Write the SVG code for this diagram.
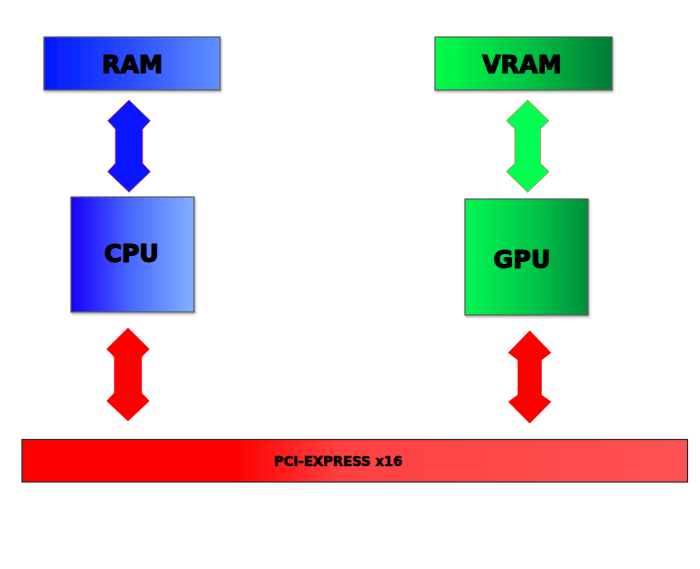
<svg xmlns="http://www.w3.org/2000/svg" width="700" height="569" viewBox="0 0 700 569">
<defs>
<linearGradient id="gRam" x1="0" y1="0" x2="1" y2="0">
<stop offset="0" stop-color="#0016ff"/><stop offset="0.5" stop-color="#2a4eff"/><stop offset="1" stop-color="#6090ff"/>
</linearGradient>
<linearGradient id="gCpu" x1="0" y1="0" x2="1" y2="0">
<stop offset="0" stop-color="#1800ff"/><stop offset="0.5" stop-color="#4a6cff"/><stop offset="1" stop-color="#82b0ff"/>
</linearGradient>
<linearGradient id="gVram" x1="0" y1="0" x2="1" y2="0">
<stop offset="0" stop-color="#00ff48"/><stop offset="0.5" stop-color="#00c844"/><stop offset="1" stop-color="#007a36"/>
</linearGradient>
<linearGradient id="gGpu" x1="0" y1="0" x2="1" y2="0">
<stop offset="0" stop-color="#00f654"/><stop offset="0.5" stop-color="#00cc48"/><stop offset="1" stop-color="#008f3c"/>
</linearGradient>
<linearGradient id="gPci" x1="0" y1="0" x2="1" y2="0">
<stop offset="0" stop-color="#ff0000"/><stop offset="0.32" stop-color="#ff0000"/><stop offset="0.48" stop-color="#ff4040"/><stop offset="1" stop-color="#ff5252"/>
</linearGradient>
<filter id="sh" x="-10%" y="-10%" width="120%" height="130%">
<feDropShadow dx="1" dy="1.5" stdDeviation="1.2" flood-color="#000" flood-opacity="0.35"/>
</filter>
</defs>
<style>
.box{stroke:#5a5a5a;stroke-width:1.2;filter:url(#sh)}
.lbl{font-family:"DejaVu Sans","Liberation Sans",sans-serif;font-weight:bold;fill:#000;stroke:#000;text-anchor:middle;stroke-linejoin:round}
.big{font-size:24px;stroke-width:1.1}
.small{font-size:13.3px;stroke-width:0.5}
.ab{fill:#0a14ff;stroke:#c03a7a;stroke-width:0.8}
.ag{fill:#00ff50;stroke:#e0704a;stroke-width:0.8}
.ar{fill:#ff0000;stroke:#ff0000;stroke-width:0.5}
</style>
<g id="connectors">
<path class="ab" d="M129,100 L150.3,120.7 L142.7,129 L142.7,163.3 L150.3,171.7 L129,192.3 L107.7,171.7 L115.3,163.3 L115.3,129 L107.7,120.7 Z"/>
<path class="ag" d="M527.7,100 L549,120.7 L540.5,129 L540.5,163.3 L549,171.7 L527.7,192.3 L506.4,171.7 L514.9,163.3 L514.9,129 L506.4,120.7 Z"/>
<path class="ar" d="M128,328 L149.3,349 L141.7,357 L141.7,393 L149.3,401 L128,421 L106.7,401 L114.3,393 L114.3,357 L106.7,349 Z"/>
<path class="ar" d="M529.7,330.7 L551,352.7 L541.5,360 L541.5,395 L551,401.7 L529.7,423.3 L508.4,401.7 L517.9,395 L517.9,360 L508.4,352.7 Z"/>
</g>
<g id="ram">
<rect class="box" x="44" y="37" width="176" height="53" fill="url(#gRam)"/>
<text class="lbl big" x="132.5" y="73">RAM</text>
</g>
<g id="vram">
<rect class="box" x="435" y="37" width="177" height="53" fill="url(#gVram)"/>
<text class="lbl big" x="522" y="73">VRAM</text>
</g>
<g id="cpu">
<rect class="box" x="71" y="197" width="123" height="115" fill="url(#gCpu)"/>
<text class="lbl big" x="131.5" y="262">CPU</text>
</g>
<g id="gpu">
<rect class="box" x="465" y="199" width="123" height="116" fill="url(#gGpu)"/>
<text class="lbl big" x="522" y="268">GPU</text>
</g>
<g id="pcie">
<rect x="22" y="439.5" width="665.5" height="42.5" fill="url(#gPci)" stroke="#2a2a2a" stroke-width="1.2"/>
<text class="lbl small" x="338" y="466">PCI-EXPRESS x16</text>
</g>
</svg>
